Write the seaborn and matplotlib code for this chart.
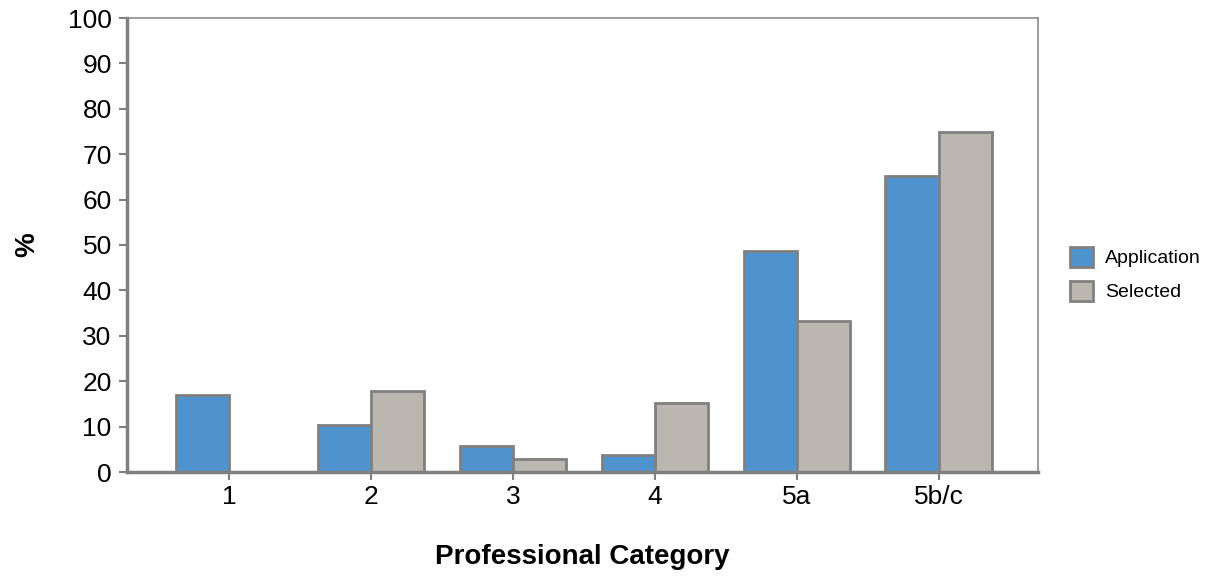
import pandas as pd
import seaborn as sns
import numpy as np
import matplotlib.pyplot as plt

categories = ['1', '2', '3', '4', '5a', '5b/c']
application = [17.0, 10.4, 5.7, 3.7, 48.7, 65.2]
selected = [0.0, 17.8, 2.9, 15.3, 33.3, 74.9]
series = ['Application', 'Selected']

df = pd.DataFrame({
    'category': categories * 2,
    'value': application + selected,
    'series': [series[0]] * len(categories) + [series[1]] * len(categories),
})

sns.set_style('white')
plt.rcParams['font.family'] = ['Liberation Sans', 'DejaVu Sans']
plt.rcParams['text.color'] = 'black'

fig = plt.figure(figsize=(12.31, 5.82), dpi=100)
ax = fig.add_axes([127 / 1231, 1 - 472 / 582, (1038 - 127) / 1231, (472 - 18) / 582])

sns.barplot(data=df, x='category', y='value', hue='series', order=categories,
            hue_order=series, palette=['#4f93ce', '#bab7b0'], width=0.75,
            edgecolor='#808080', linewidth=2, saturation=1, ax=ax)

ax.set_ylim(0, 100)
ax.set_xlim(-0.72, 5.70)
ax.set_yticks(np.arange(0, 101, 10))
ax.tick_params(axis='both', direction='out', length=6, width=1.5, color='#808080',
               labelcolor='black', bottom=True, left=True)
ax.tick_params(axis='y', labelsize=19, pad=5)
ax.tick_params(axis='x', labelsize=19, pad=3)

for side in ['left', 'bottom']:
    ax.spines[side].set_color('#808080')
    ax.spines[side].set_linewidth(2.5)
for side in ['top', 'right']:
    ax.spines[side].set_color('#8c8c8c')
    ax.spines[side].set_linewidth(1.2)

ax.set_ylabel('%', fontsize=20, fontweight='bold', color='black')
ax.yaxis.set_label_coords(-0.095, 0.5)
ax.set_xlabel('Professional Category', fontsize=20, fontweight='bold', color='black')
ax.xaxis.set_label_coords(0.5, -0.158)

leg = ax.legend(loc='center left', bbox_to_anchor=(1070 / 1231, 1 - 274 / 582),
                bbox_transform=fig.transFigure, frameon=False, borderpad=0,
                borderaxespad=0, fontsize=14, handlelength=1.2, handleheight=1.2,
                handletextpad=0.6, labelspacing=0.7)
for h in leg.legend_handles:
    h.set_edgecolor('#808080')
    h.set_linewidth(2)

fig.savefig('out.png', dpi=100)
